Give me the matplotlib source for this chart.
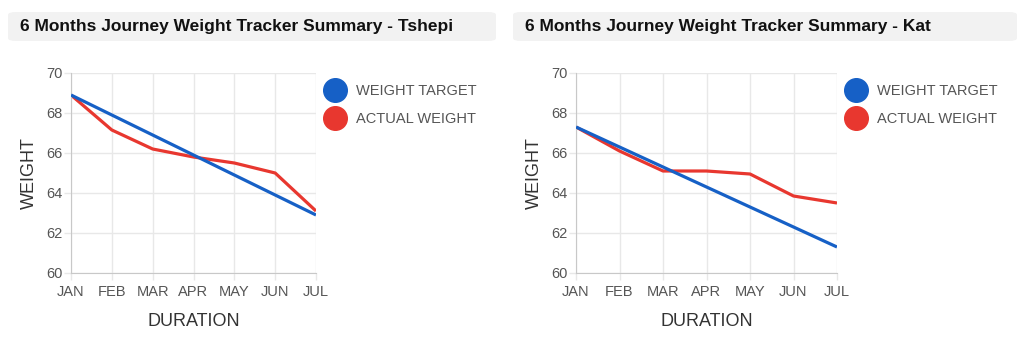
import numpy as np
import matplotlib.pyplot as plt
from matplotlib.patches import FancyBboxPatch
from matplotlib.lines import Line2D

plt.rcParams['font.family'] = ['Liberation Sans', 'DejaVu Sans']

months = ['JAN', 'FEB', 'MAR', 'APR', 'MAY', 'JUN', 'JUL']
tshepi_target = [68.9, 67.9, 66.9, 65.9, 64.9, 63.9, 62.9]
tshepi_actual = [68.9, 67.15, 66.2, 65.8, 65.5, 65.0, 63.1]
kat_target = [67.3, 66.3, 65.3, 64.3, 63.3, 62.3, 61.3]
kat_actual = [67.3, 66.1, 65.1, 65.1, 64.95, 63.85, 63.5]
names = ['Tshepi', 'Kat']

W, H = 1023, 356
fig = plt.figure(figsize=(W / 100, H / 100), dpi=100)

blue = '#1660c6'
red = '#e8372f'
grey_txt = '#555555'


def fx(px):
    return px / W


def fy(py):
    return 1 - py / H


panels = [
    # title bar x0, x1, axes x0, x1, legend x, data
    (8, 496, 71, 316, 320, tshepi_target, tshepi_actual, names[0]),
    (513, 1017, 576, 837, 841, kat_target, kat_actual, names[1]),
]

for bx0, bx1, ax0, ax1, lx, target, actual, name in panels:
    bar = FancyBboxPatch((fx(bx0), fy(41)), fx(bx1 - bx0), (41 - 12) / H,
                         boxstyle='round,pad=0,rounding_size=0.008',
                         transform=fig.transFigure, facecolor='#f2f2f2',
                         edgecolor='none')
    fig.patches.append(bar)
    fig.text(fx(bx0 + 12), fy(26.5), '6 Months Journey Weight Tracker Summary - ' + name,
             fontsize=12.5, fontweight='bold', color='#111111', va='center', ha='left')

    ax = fig.add_axes([fx(ax0), fy(273), fx(ax1 - ax0), (273 - 73) / H])
    x = np.arange(len(months))
    ax.plot(x, target, color=blue, lw=2.3, solid_capstyle='butt', zorder=3)
    ax.plot(x, actual, color=red, lw=2.3, solid_capstyle='butt', zorder=2)
    ax.set_xlim(0, len(months) - 1)
    ax.set_ylim(60, 70)
    ax.set_xticks(x)
    ax.set_xticklabels(months)
    ax.set_yticks(np.arange(60, 71, 2))
    ax.grid(True, color='#e8e8e8', lw=1)
    ax.set_axisbelow(True)
    for s in ['top', 'right']:
        ax.spines[s].set_visible(False)
    for s in ['left', 'bottom']:
        ax.spines[s].set_color('#c8c8c8')
    ax.tick_params(axis='both', colors='#e8e8e8', labelcolor=grey_txt,
                   labelsize=10.5, length=5, width=1, pad=1)
    ax.tick_params(axis='x', pad=4)
    ax.set_ylabel('WEIGHT', fontsize=13, color='#333333', labelpad=6)
    ax.set_xlabel('DURATION', fontsize=13, color='#333333', labelpad=10)

    handles = [Line2D([], [], ls='none', marker='o', ms=17, color=blue),
               Line2D([], [], ls='none', marker='o', ms=17, color=red)]
    leg = ax.legend(handles, ['WEIGHT TARGET', 'ACTUAL WEIGHT'], loc='upper left',
                    bbox_to_anchor=(fx(lx), fy(78)), bbox_transform=fig.transFigure,
                    frameon=False, fontsize=10.5, handlelength=1.2, handletextpad=0.9,
                    labelspacing=0.95, borderaxespad=0)
    for t in leg.get_texts():
        t.set_color(grey_txt)

fig.savefig('out.png', dpi=100)
